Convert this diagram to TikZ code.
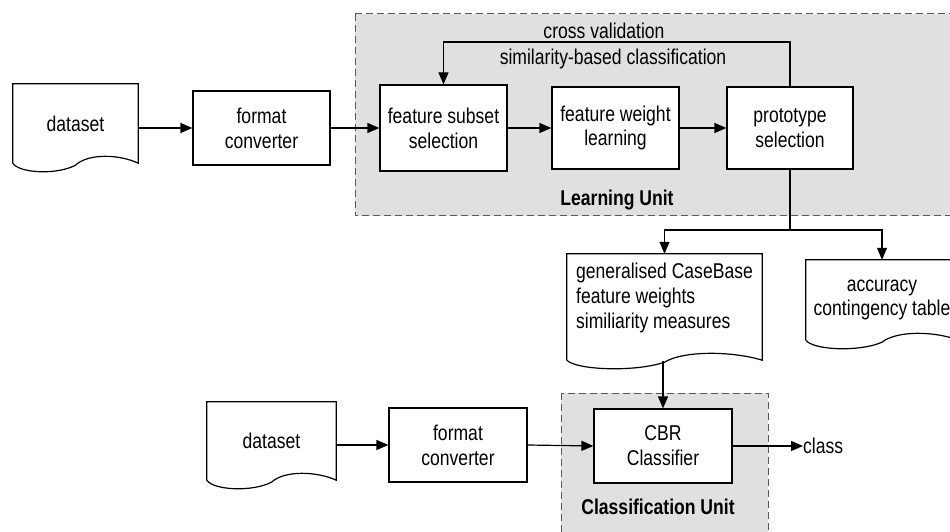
\documentclass[tikz,border=0pt]{standalone}
\usepackage{fontspec}
\setmainfont{Liberation Sans}[FakeStretch=0.82]
\usetikzlibrary{arrows.meta,calc}

\definecolor{unitfill}{HTML}{E0E0E0}
\definecolor{unitline}{HTML}{5A5A5A}

\tikzset{
  every node/.style={font=\fontsize{21.5}{25}\selectfont, inner sep=2bp},
  procbox/.style={draw, line width=1.2bp, fill=white, align=center},
  docbox/.style={draw=none, align=center},
  docline/.style={line width=1.2bp},
  unitbox/.style={fill=unitfill, draw=unitline, line width=1bp, dash pattern=on 7bp off 4bp},
  unitlabel/.style={font=\fontsize{21.5}{25}\selectfont\bfseries},
  link/.style={line width=1.2bp},
  arr/.style={line width=1.2bp, -{Triangle[length=12bp,width=10bp]}},
}

% outline of a flowchart "document": straight top and sides, wavy bottom
% #1 = node name, #2 = how far (bp) the sides run below the node
\newcommand\docshape[2]{%
  \draw[docline] let \p1=(#1.north west), \p2=(#1.south east) in
    (\x1,\y2-#2bp) -- (\x1,\y1) -- (\x2,\y1) -- (\x2,\y2-#2bp)
    .. controls (\x1+0.85*\x2-0.85*\x1, \y2-#2bp+9bp) and (\x1+0.6*\x2-0.6*\x1, \y2-#2bp+10bp)
    .. (\x1+0.5*\x2-0.5*\x1, \y2-#2bp-2bp)
    .. controls (\x1+0.35*\x2-0.35*\x1, \y2-#2bp-12bp) and (\x1+0.05*\x2-0.05*\x1, \y2-#2bp-10bp)
    .. (\x1,\y2-#2bp);
}

\begin{document}
\begin{tikzpicture}[x=1bp, y=-1bp]
  \clip (0,0) rectangle (950,532);

  % unit backgrounds
  \draw[unitbox] (355,14) rectangle (965,216);
  \draw[unitbox] (561,393) rectangle (768,545);
  \node[unitlabel] (lu) at (617,200) {Learning Unit};
  \node[unitlabel] (cu) at (658,507) {Classification Unit};

  % learning pipeline
  \node[docbox, minimum width=125bp, minimum height=79bp] (ds1) at (75.5,123.5) {dataset};
  \docshape{ds1}{0}
  \node[procbox, minimum width=137bp, minimum height=74bp] (fc1) at (261.5,128) {format\\converter};
  \node[procbox, minimum width=127bp, minimum height=86bp] (fss) at (443.5,128) {feature subset\\selection};
  \node[procbox, minimum width=127bp, minimum height=82bp] (fwl) at (615.5,128) {feature weight\\learning};
  \node[procbox, minimum width=126bp, minimum height=82bp] (ps) at (790,128) {prototype\\selection};

  \node (cv) at (604,31) {cross validation};
  \node (sbc) at (613,59) {similarity-based classification};

  % outputs of learning
  \node[docbox, align=left, minimum width=195bp, minimum height=88bp] (gen) at (664.5,298)
    {generalised CaseBase\\feature weights\\similiarity measures};
  \docshape{gen}{18}
  \node[docbox, minimum width=152bp, minimum height=80bp] (acc) at (882,300)
    {accuracy\\contingency table};
  \docshape{acc}{0}

  % classification pipeline
  \node[docbox, minimum width=129bp, minimum height=78bp] (ds2) at (271.5,441) {dataset};
  \docshape{ds2}{0}
  \node[procbox, minimum width=138bp, minimum height=74bp] (fc2) at (458,445) {format\\converter};
  \node[procbox, minimum width=138bp, minimum height=74bp] (cbr) at (663,446) {CBR\\Classifier};
  \node[anchor=west, inner sep=0pt] (cls) at (803,446) {class};

  % connectors
  \draw[arr] (fc1.west -| ds1.east) -- (fc1.west);
  \draw[arr] (fc1.east) -- (fss.west);
  \draw[arr] (fss.east) -- (fwl.west);
  \draw[arr] (fwl.east) -- (ps.west);
  \coordinate (loop) at (790,42);
  \draw[arr] (ps.north) -- (loop) -| (fss.north);

  \coordinate (split) at (790,230);
  \draw[link] (ps.south) -- (split);
  \draw[arr] (split) -| (gen.north);
  \draw[arr] (split) -| (acc.north);

  \coordinate (genfoot) at ([yshift=-19bp]gen.south);
  \draw[arr] (cbr.north |- genfoot) -- (cbr.north);

  \draw[arr] (fc2.west -| ds2.east) -- (fc2.west);
  \draw[arr] (fc2.east) -- (cbr.west);
  \draw[arr] (cbr.east) -- (cls.west);
\end{tikzpicture}
\end{document}
